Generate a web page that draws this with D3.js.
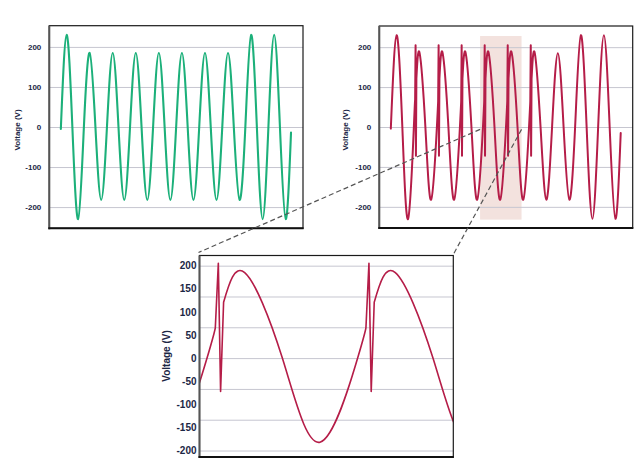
<!DOCTYPE html>
<html><head><meta charset="utf-8">
<script src="https://cdn.jsdelivr.net/npm/d3@7"></script>
<style>
html,body{margin:0;padding:0;background:#fff;}
svg{display:block;}
</style></head><body>
<svg id="c" width="641" height="461"></svg>
<script>
// ---- data (time in ms, voltage in V) ----
const baseTime = [0,5,10,15, 20,25,30,35, 40,45,50,55, 60,65,70,75, 80,85,90,95,
  100,105,110,115, 120,125,130,135, 140,145,150,155, 160,165,170,175,
  180,185,190,195, 199.6];
const greenVolt = [-5,230,0,-230, 0,185,0,-182, 0,185,0,-182, 0,185,0,-182, 0,185,0,-182,
  0,185,0,-182, 0,185,0,-182, 0,185,0,-182, 0,230,0,-230,
  0,230,0,-230, -14];
const redVolt = [-4,230,0,-230, 0,185,0,-182, 0,185,0,-182, 0,185,0,-182, 0,185,0,-182,
  0,185,0,-182, 0,185,0,-182, 0,185,0,-182, 0,230,0,-230,
  0,230,0,-230, -15];
const spikeTime = [
  [21.1,21.5,21.8,22.2],
  [41.1,41.5,41.8,42.2],
  [61.1,61.5,61.8,62.2],
  [81.1,81.5,81.8,82.2],
  [101.1,101.5,101.8,102.2],
  [121.1,121.5,121.8,122.2]
];
const spikeVolt = [
  [66,205,-72,121],
  [66,205,-72,121],
  [66,205,-72,121],
  [66,205,-72,121],
  [66,205,-72,121],
  [66,205,-72,121]
];
const topTicks = [200,100,0,-100,-200];
const zoomTicks = [200,150,100,50,0,-50,-100,-150,-200];
const zoomGrid = [200,133.3,66.7,0,-66.7,-133.3,-200];
const topTimeDomain = [-10,210];
const topVoltDomain = [-253,253];
const zoomTimeDomain = [79,112.7];
const zoomVoltDomain = [-214,222];
const highlightTime = [77.5,113.5];
const highlightVolt = [-232,228];
const yTitle = "Voltage (V)";

// ---- layout ----
const boxes = {
  left:  {x0:49.3,  x1:303,   y0:25.7,  y1:228.3},
  right: {x0:379.3, x1:632.7, y0:26,    y1:228},
  zoom:  {x0:199.5, x1:453.3, y0:255.5, y1:457}
};
const GREEN = "#1cb07a", RED = "#b51d48", TXT = "#1c2745", GRID = "#c6c6d0";
const FONT = "'Liberation Sans Narrow','Arial Narrow','Liberation Sans',Arial,sans-serif";

const svg = d3.select("#c");
const defs = svg.append("defs");

function buildSegments(times, volts, sTimes, sVolts) {
  const pts = times.map((t,i)=>({t, v:volts[i], g:-1, k:0, n:0}));
  sTimes.forEach((arr,gi)=>arr.forEach((t,k)=>pts.push({t, v:sVolts[gi][k], g:gi, k, n:arr.length})));
  pts.sort((a,b)=>a.t-b.t);
  const segs = []; let cur = {curve:d3.curveNatural, pts:[]};
  pts.forEach(p=>{
    if (p.g < 0) cur.pts.push(p);
    else if (p.k === 0) { cur.pts.push(p); segs.push(cur); cur = {curve:d3.curveLinear, pts:[p]}; }
    else if (p.k === p.n-1) { cur.pts.push(p); segs.push(cur); cur = {curve:d3.curveNatural, pts:[p]}; }
    else cur.pts.push(p);
  });
  segs.push(cur);
  return segs;
}

function panel(name, box, xDom, yDom, gridVals, tickVals, opt) {
  const x = d3.scaleLinear().domain(xDom).range([box.x0, box.x1]);
  const y = d3.scaleLinear().domain(yDom).range([box.y1, box.y0]);
  const g = svg.append("g");
  defs.append("clipPath").attr("id","clip-"+name).append("rect")
    .attr("x",box.x0).attr("y",box.y0).attr("width",box.x1-box.x0).attr("height",box.y1-box.y0);
  if (opt.highlight) {
    g.append("rect").attr("x",x(highlightTime[0])).attr("y",y(highlightVolt[1]))
      .attr("width",x(highlightTime[1])-x(highlightTime[0]))
      .attr("height",y(highlightVolt[0])-y(highlightVolt[1]))
      .attr("fill","#f3e2de");
  }
  // grid
  const grid = g.append("g").attr("transform",`translate(${box.x0},0)`)
    .call(d3.axisLeft(y).tickValues(gridVals).tickSize(-(box.x1-box.x0)).tickFormat(""));
  grid.select(".domain").remove();
  grid.selectAll("line").attr("stroke",GRID).attr("stroke-width",1);
  // line
  const segs = buildSegments(baseTime, opt.volts, opt.sT, opt.sV);
  const line = d3.line().x(d=>x(d.t)).y(d=>y(d.v));
  const dStr = segs.map(s=>line.curve(s.curve)(s.pts)).join("");
  g.append("path").attr("d",dStr).attr("fill","none").attr("stroke",opt.color)
    .attr("stroke-width",opt.lw).attr("stroke-linejoin","round").attr("stroke-linecap","round")
    .attr("clip-path",`url(#clip-${name})`);
  // frame
  g.append("rect").attr("x",box.x0).attr("y",box.y0).attr("width",box.x1-box.x0).attr("height",box.y1-box.y0)
    .attr("fill","none").attr("stroke","#1a1a1a").attr("stroke-width",1.2);
  g.append("line").attr("x1",box.x0).attr("x2",box.x0).attr("y1",box.y0).attr("y2",box.y1+1)
    .attr("stroke","#555").attr("stroke-width",2);
  g.append("line").attr("x1",box.x0-1).attr("x2",box.x1+0.6).attr("y1",box.y1).attr("y2",box.y1)
    .attr("stroke","#111").attr("stroke-width",2);
  // tick labels
  const ax = g.append("g").attr("transform",`translate(${box.x0},0)`)
    .call(d3.axisLeft(y).tickValues(tickVals).tickSize(0).tickPadding(opt.pad).tickFormat(d=>String(d)));
  ax.select(".domain").remove();
  ax.selectAll("text").attr("fill",TXT).style("font-family",FONT).style("font-weight","bold")
    .style("font-size",opt.fs+"px");
  // title
  g.append("text").attr("transform",`translate(${opt.titleX},${opt.titleY}) rotate(-90)`)
    .attr("text-anchor","middle").attr("dominant-baseline","central")
    .attr("fill",TXT).style("font-family",FONT).style("font-weight","bold").style("font-size",opt.tfs+"px")
    .text(yTitle);
  return {x,y};
}

panel("left", boxes.left, topTimeDomain, topVoltDomain, topTicks, topTicks,
  {volts:greenVolt, sT:[], sV:[], color:GREEN, lw:2.1, pad:8, fs:8, tfs:8, titleX:17, titleY:130});
const R = panel("right", boxes.right, topTimeDomain, topVoltDomain, topTicks, topTicks,
  {volts:redVolt, sT:spikeTime, sV:spikeVolt, color:RED, lw:2, pad:8, fs:8, tfs:8, titleX:345, titleY:130, highlight:true});
panel("zoom", boxes.zoom, zoomTimeDomain, zoomVoltDomain, zoomGrid, zoomTicks,
  {volts:redVolt, sT:spikeTime, sV:spikeVolt, color:RED, lw:1.6, pad:3, fs:10, tfs:10, titleX:166, titleY:356});

// connector dashed lines
const conn = [
  [R.x(highlightTime[0]), R.y(-6), boxes.zoom.x0-1, boxes.zoom.y0-3],
  [R.x(highlightTime[1]), R.y(-6), boxes.zoom.x1, boxes.zoom.y0-1]
];
svg.selectAll("line.conn").data(conn).join("line").attr("class","conn")
  .attr("x1",d=>d[0]).attr("y1",d=>d[1]).attr("x2",d=>d[2]).attr("y2",d=>d[3])
  .attr("stroke","#555").attr("stroke-width",1.2).attr("stroke-dasharray","5,3");
</script>
</body></html>
